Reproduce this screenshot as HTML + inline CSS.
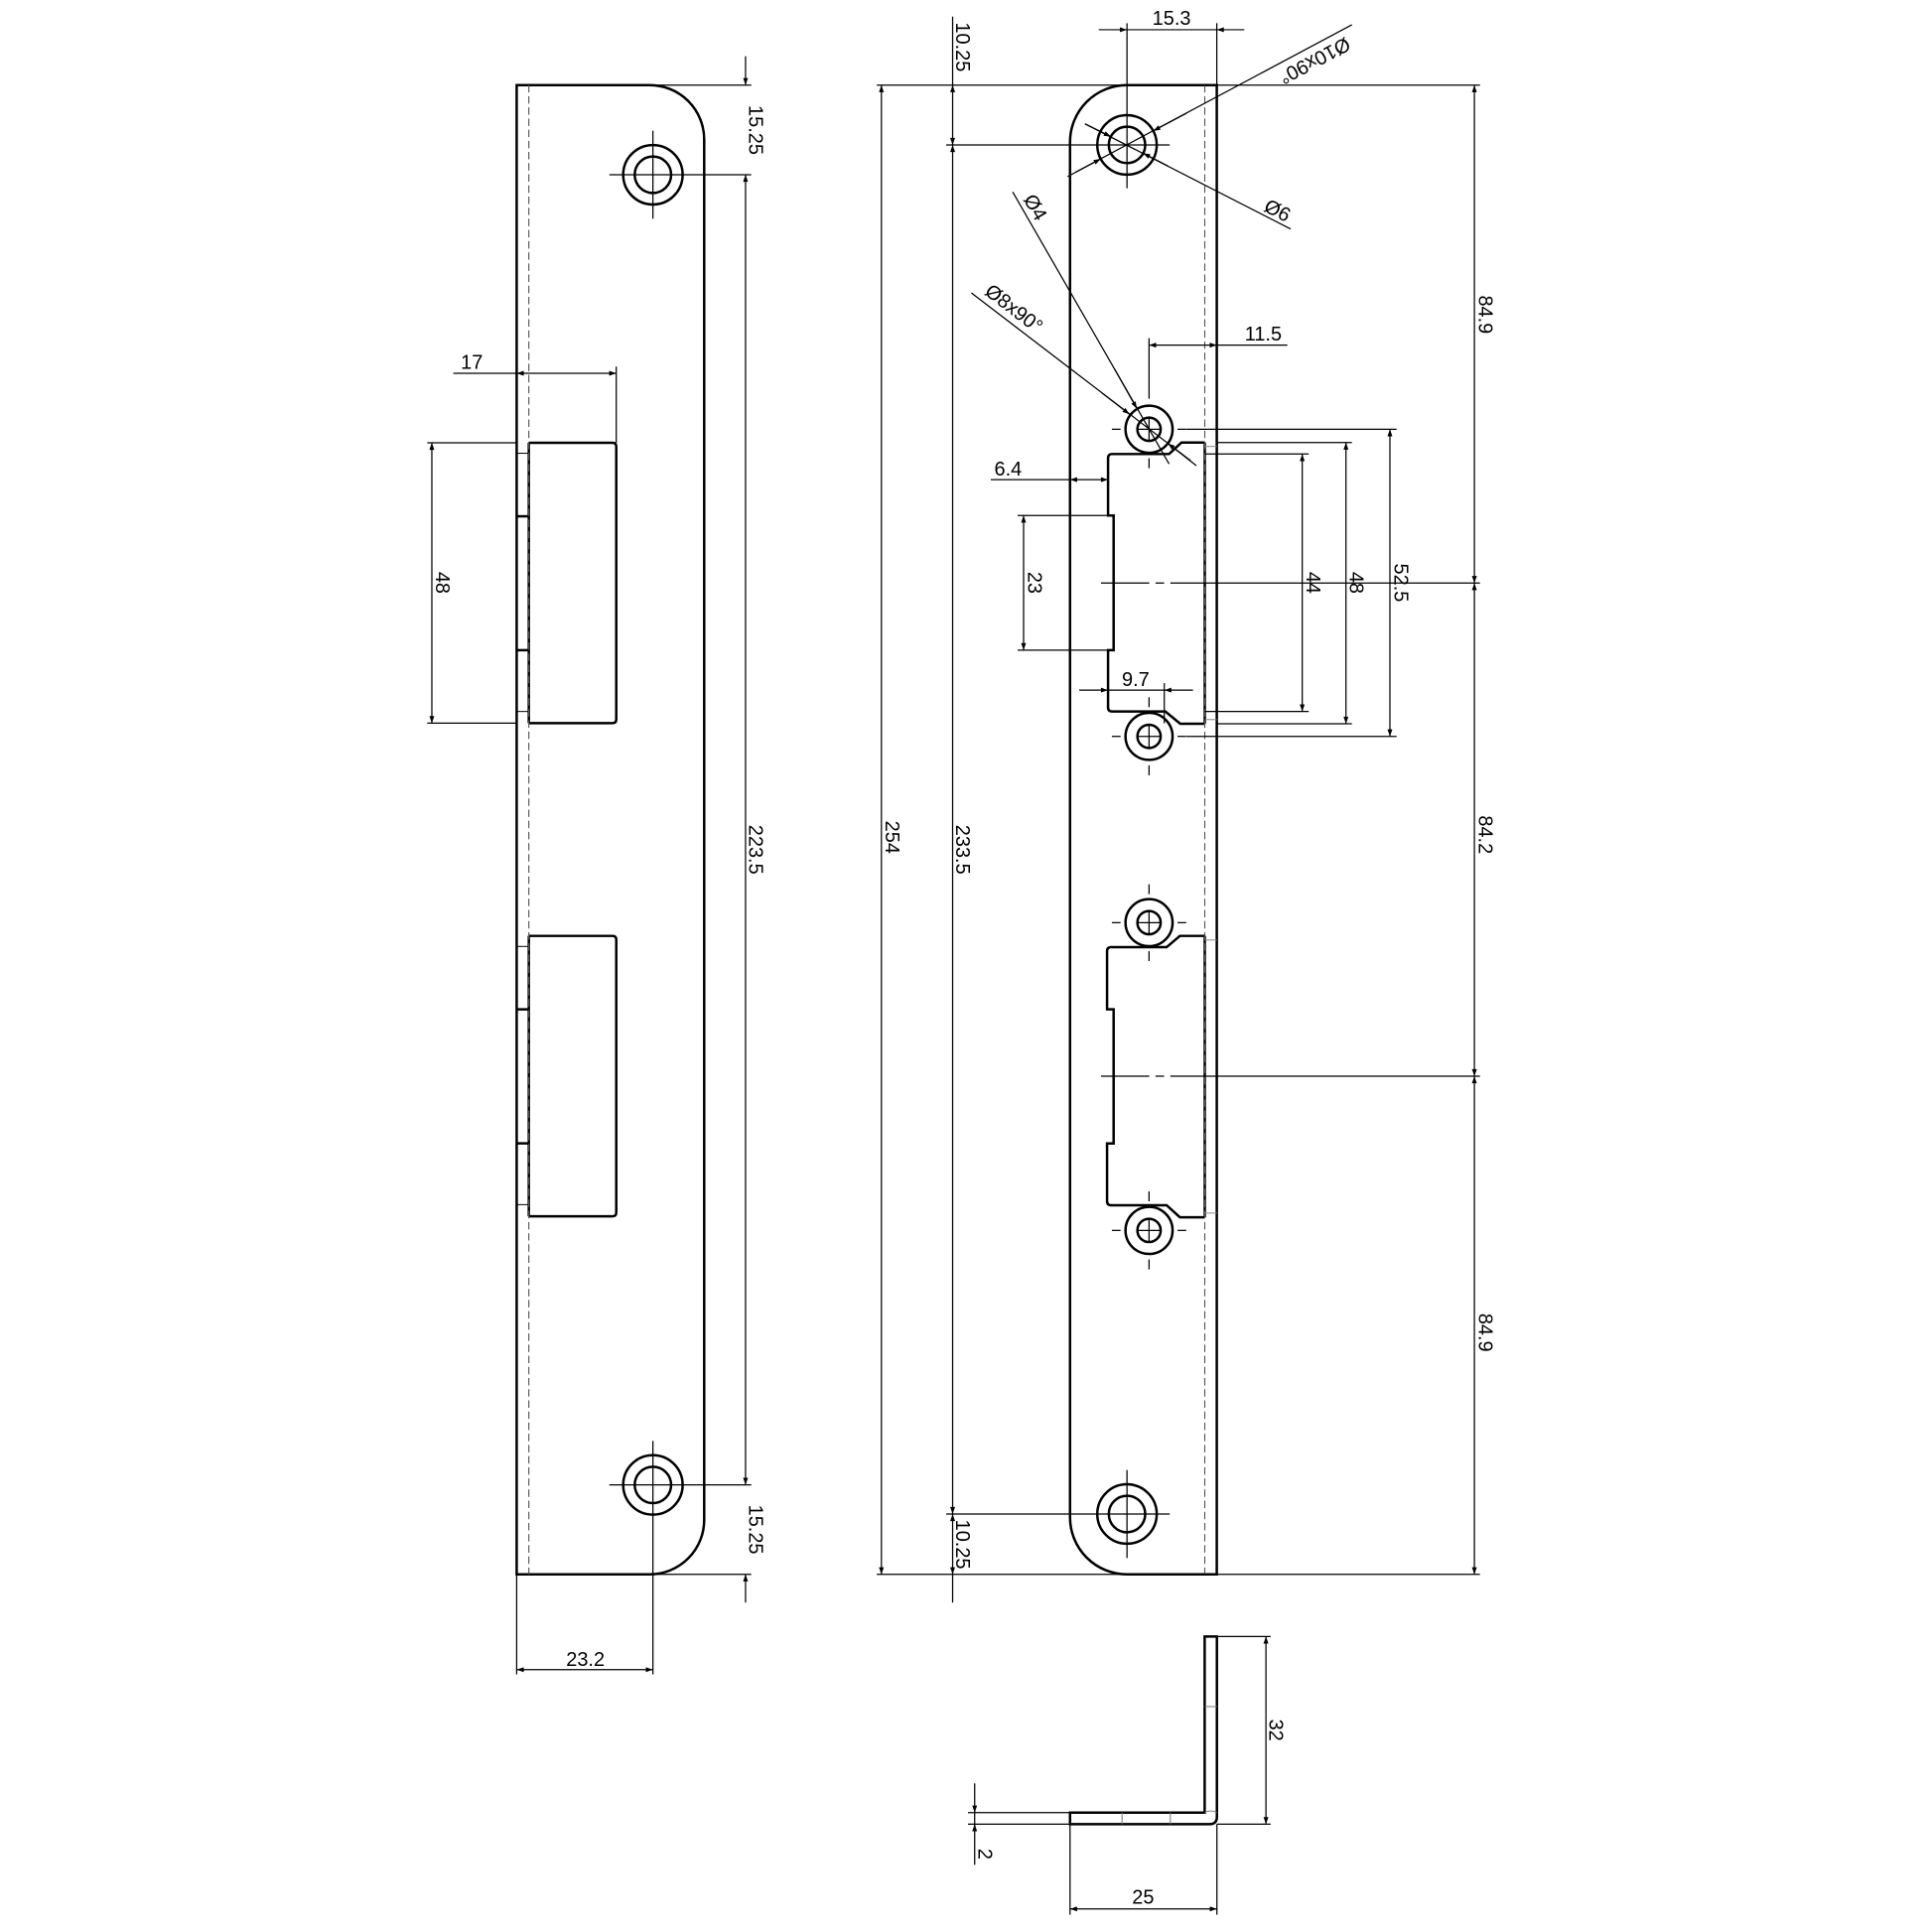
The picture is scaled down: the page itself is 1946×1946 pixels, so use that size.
<!DOCTYPE html>
<html><head><meta charset="utf-8"><style>
html,body{margin:0;padding:0;background:#fff;}
svg{display:block;}
text{font-family:"Liberation Sans",sans-serif;font-size:16px;fill:#000;}
</style></head><body>
<svg width="1946" height="1946" viewBox="0 0 1560 1560" xmlns="http://www.w3.org/2000/svg">
<defs>
<marker id="a" viewBox="0 0 10 7" refX="10" refY="3.5" markerWidth="11" markerHeight="4" markerUnits="userSpaceOnUse" orient="auto-start-reverse"><path d="M0,0 L10,3.5 L0,7 z" fill="#000"/></marker>
</defs>
<rect width="1560" height="1560" fill="#fff"/>

<!-- ============ LEFT VIEW ============ -->
<g fill="none" stroke="#000" stroke-width="2">
<path d="M417.2,68.7 H524.6 A44,44 0 0 1 568.6,112.7 V1227.2 A44,44 0 0 1 524.6,1271.2 H417.2 Z"/>
<path d="M427,357.5 H494.6 Q497.6,357.5 497.6,360.5 V580.9 Q497.6,583.9 494.6,583.9 H427"/>
<path d="M427,755.7 H494.6 Q497.6,755.7 497.6,758.7 V979.1 Q497.6,982.1 494.6,982.1 H427"/>
<line x1="427" y1="357.5" x2="427" y2="583.9"/>
<line x1="427" y1="755.7" x2="427" y2="982.1"/>
<line x1="417.2" y1="416.9" x2="427" y2="416.9"/><line x1="417.2" y1="525" x2="427" y2="525"/>
<line x1="417.2" y1="815" x2="427" y2="815"/><line x1="417.2" y1="923.2" x2="427" y2="923.2"/>
<line x1="417.2" y1="366" x2="427" y2="366" stroke-width="0.8"/><line x1="417.2" y1="574.5" x2="427" y2="574.5" stroke-width="0.8"/>
<line x1="417.2" y1="764.2" x2="427" y2="764.2" stroke-width="0.8"/><line x1="417.2" y1="972.7" x2="427" y2="972.7" stroke-width="0.8"/>
<circle cx="527.2" cy="141.1" r="24"/><circle cx="527.2" cy="141.1" r="14.7"/>
<circle cx="527.2" cy="1199" r="24"/><circle cx="527.2" cy="1199" r="14.7"/>
</g>
<line x1="427" y1="68.7" x2="427" y2="1271.2" stroke="#555" stroke-width="0.9" stroke-dasharray="6,3"/>
<g stroke="#000" stroke-width="1" fill="none">
<line x1="492" y1="141.1" x2="606.6" y2="141.1"/><line x1="527.2" y1="105.6" x2="527.2" y2="176.6"/>
<line x1="492" y1="1199" x2="606.6" y2="1199"/><line x1="527.2" y1="1163.5" x2="527.2" y2="1352"/>
<line x1="524" y1="68.7" x2="606.6" y2="68.7"/><line x1="524" y1="1271.2" x2="606.6" y2="1271.2"/>
<line x1="602" y1="45.4" x2="602" y2="68.7" marker-end="url(#a)"/>
<line x1="602" y1="141.1" x2="602" y2="1199" marker-start="url(#a)" marker-end="url(#a)"/>
<line x1="602" y1="1294" x2="602" y2="1271.2" marker-end="url(#a)"/>
<line x1="366" y1="301.4" x2="417.2" y2="301.4"/>
<line x1="417.2" y1="301.4" x2="497.6" y2="301.4" marker-start="url(#a)" marker-end="url(#a)"/>
<line x1="497.6" y1="296" x2="497.6" y2="357.5"/>
<line x1="345" y1="357.5" x2="417.2" y2="357.5"/><line x1="345" y1="583.9" x2="417.2" y2="583.9"/>
<line x1="348.7" y1="357.5" x2="348.7" y2="583.9" marker-start="url(#a)" marker-end="url(#a)"/>
<line x1="417.2" y1="1271.2" x2="417.2" y2="1352"/>
<line x1="417.2" y1="1348.2" x2="527.2" y2="1348.2" marker-start="url(#a)" marker-end="url(#a)"/>
</g>
<text x="381" y="298" text-anchor="middle">17</text>
<text x="472.7" y="1345" text-anchor="middle">23.2</text>
<text transform="translate(352,470.5) rotate(90)" text-anchor="middle">48</text>
<text transform="translate(605,105) rotate(90)" text-anchor="middle">15.25</text>
<text transform="translate(605,686) rotate(90)" text-anchor="middle">223.5</text>
<text transform="translate(605,1235) rotate(90)" text-anchor="middle">15.25</text>

<!-- ============ MIDDLE VIEW ============ -->
<g fill="none" stroke="#000" stroke-width="2">
<path d="M910,68.7 H982.5 V1271.2 H910 A46,46 0 0 1 864,1225.2 V114.7 A46,46 0 0 1 910,68.7 Z"/>
<circle cx="910" cy="117" r="24"/><circle cx="910" cy="117" r="14.7"/>
<circle cx="910" cy="1222.5" r="24"/><circle cx="910" cy="1222.5" r="14.7"/>
<circle cx="927.8" cy="346.6" r="19"/><circle cx="927.8" cy="346.6" r="9.4"/>
<circle cx="927.8" cy="594.6" r="19"/><circle cx="927.8" cy="594.6" r="9.4"/>
<circle cx="927.8" cy="745" r="19"/><circle cx="927.8" cy="745" r="9.4"/>
<circle cx="927.8" cy="993.5" r="19"/><circle cx="927.8" cy="993.5" r="9.4"/>
<path d="M972.8,357.3 H954 L944,366.6 H898 Q894.7,366.6 894.7,369.9 V416.3 H899.2 V525 H894.7 V571.2 Q894.7,574.5 898,574.5 H941 L953,584.4 H972.8"/>
<path d="M972.8,755.7 H952.7 L942,764.8 H897.2 Q893.9,764.8 893.9,768.1 V815 H899.2 V923.3 H893.9 V969.9 Q893.9,973.2 897.2,973.2 H942 L952.7,982.9 H972.8"/>
<line x1="972.8" y1="357.3" x2="972.8" y2="584.4"/>
<line x1="972.8" y1="755.7" x2="972.8" y2="982.9"/>
</g>
<line x1="972.8" y1="68.7" x2="972.8" y2="1271.2" stroke="#555" stroke-width="0.9" stroke-dasharray="6,3"/>
<g stroke="#888" stroke-width="0.8">
<line x1="972.8" y1="360.5" x2="982.5" y2="360.5"/><line x1="972.8" y1="581" x2="982.5" y2="581"/>
<line x1="972.8" y1="759" x2="982.5" y2="759"/><line x1="972.8" y1="979.5" x2="982.5" y2="979.5"/>
</g>
<g stroke="#000" stroke-width="1" fill="none">
<line x1="764" y1="117" x2="944.5" y2="117"/><line x1="910" y1="18.7" x2="910" y2="152"/>
<line x1="764" y1="1222.5" x2="944.5" y2="1222.5"/><line x1="910" y1="1187" x2="910" y2="1258"/>
<g>
<line x1="918.4" y1="346.6" x2="937.2" y2="346.6"/><line x1="927.8" y1="337.2" x2="927.8" y2="356"/>
<line x1="897.8" y1="346.6" x2="904.8" y2="346.6"/><line x1="950.8" y1="346.6" x2="957.8" y2="346.6"/><line x1="927.8" y1="370" x2="927.8" y2="378"/>
<line x1="918.4" y1="594.6" x2="937.2" y2="594.6"/><line x1="927.8" y1="585.2" x2="927.8" y2="604"/>
<line x1="897.8" y1="594.6" x2="904.8" y2="594.6"/><line x1="950.8" y1="594.6" x2="957.8" y2="594.6"/><line x1="927.8" y1="618" x2="927.8" y2="626"/><line x1="927.8" y1="563" x2="927.8" y2="571"/>
<line x1="918.4" y1="745" x2="937.2" y2="745"/><line x1="927.8" y1="735.6" x2="927.8" y2="754.4"/>
<line x1="897.8" y1="745" x2="904.8" y2="745"/><line x1="950.8" y1="745" x2="957.8" y2="745"/><line x1="927.8" y1="714" x2="927.8" y2="722"/><line x1="927.8" y1="768" x2="927.8" y2="776"/>
<line x1="918.4" y1="993.5" x2="937.2" y2="993.5"/><line x1="927.8" y1="984.1" x2="927.8" y2="1002.9"/>
<line x1="897.8" y1="993.5" x2="904.8" y2="993.5"/><line x1="950.8" y1="993.5" x2="957.8" y2="993.5"/><line x1="927.8" y1="962" x2="927.8" y2="970"/><line x1="927.8" y1="1017" x2="927.8" y2="1025"/>
</g>
<path d="M889,470.8 H928 M933,470.8 H940 M945,470.8 H1195" />
<path d="M889,869 H928 M933,869 H940 M945,869 H1195" />
<line x1="1091.6" y1="20" x2="868.5" y2="139"/>
<line x1="958" y1="91.4" x2="931.2" y2="105.7" marker-end="url(#a)"/>
<line x1="862" y1="142.6" x2="888.8" y2="128.3" marker-end="url(#a)"/>
<line x1="876.5" y1="100.2" x2="1042.2" y2="184.9"/>
<line x1="876" y1="100" x2="897" y2="110.3" marker-end="url(#a)"/>
<line x1="943" y1="134" x2="923" y2="123.7" marker-end="url(#a)"/>
<line x1="817.7" y1="155" x2="944" y2="374.6"/>
<line x1="900" y1="298" x2="918" y2="330" marker-end="url(#a)"/>
<line x1="784.3" y1="236.5" x2="961.4" y2="372"/>
<line x1="890" y1="317.5" x2="912" y2="334.5" marker-end="url(#a)"/>
<line x1="966" y1="376" x2="943" y2="358" marker-end="url(#a)"/>
<line x1="887.2" y1="24" x2="910" y2="24" marker-end="url(#a)"/>
<line x1="910" y1="24" x2="982.5" y2="24"/>
<line x1="1004.7" y1="24" x2="982.5" y2="24" marker-end="url(#a)"/>
<line x1="982.5" y1="18.7" x2="982.5" y2="68.7"/>
<line x1="927.8" y1="278.7" x2="982.5" y2="278.7" marker-start="url(#a)" marker-end="url(#a)"/>
<line x1="982.5" y1="278.7" x2="1039.5" y2="278.7"/>
<line x1="927.8" y1="273" x2="927.8" y2="322"/>
<line x1="800" y1="387.3" x2="864" y2="387.3"/>
<line x1="864" y1="387.3" x2="894.7" y2="387.3" marker-start="url(#a)" marker-end="url(#a)"/>
<line x1="821.7" y1="416.3" x2="899" y2="416.3"/><line x1="821.7" y1="525" x2="899" y2="525"/>
<line x1="826.5" y1="416.3" x2="826.5" y2="525" marker-start="url(#a)" marker-end="url(#a)"/>
<line x1="871.4" y1="557.2" x2="894.7" y2="557.2" marker-end="url(#a)"/>
<line x1="894.7" y1="557.2" x2="940.1" y2="557.2"/>
<line x1="963.3" y1="557.2" x2="940.1" y2="557.2" marker-end="url(#a)"/>
<line x1="940.1" y1="551.6" x2="940.1" y2="584"/>
<line x1="972.8" y1="366.6" x2="1056.7" y2="366.6"/><line x1="972.8" y1="574.5" x2="1056.7" y2="574.5"/>
<line x1="1051.5" y1="366.6" x2="1051.5" y2="574.5" marker-start="url(#a)" marker-end="url(#a)"/>
<line x1="982.5" y1="357.3" x2="1091.6" y2="357.3"/><line x1="982.5" y1="584.4" x2="1091.6" y2="584.4"/>
<line x1="1086.8" y1="357.3" x2="1086.8" y2="584.4" marker-start="url(#a)" marker-end="url(#a)"/>
<line x1="958" y1="346.6" x2="1127.7" y2="346.6"/><line x1="958" y1="594.6" x2="1127.7" y2="594.6"/>
<line x1="1122.3" y1="346.6" x2="1122.3" y2="594.6" marker-start="url(#a)" marker-end="url(#a)"/>
<line x1="708" y1="68.7" x2="1195" y2="68.7"/><line x1="708" y1="1271.2" x2="1195" y2="1271.2"/>
<line x1="1190.5" y1="68.7" x2="1190.5" y2="470.8" marker-start="url(#a)" marker-end="url(#a)"/>
<line x1="1190.5" y1="470.8" x2="1190.5" y2="869" marker-start="url(#a)" marker-end="url(#a)"/>
<line x1="1190.5" y1="869" x2="1190.5" y2="1271.2" marker-start="url(#a)" marker-end="url(#a)"/>
<line x1="711.7" y1="68.7" x2="711.7" y2="1271.2" marker-start="url(#a)" marker-end="url(#a)"/>
<line x1="769.2" y1="13.4" x2="769.2" y2="68.7"/>
<line x1="769.2" y1="68.7" x2="769.2" y2="117" marker-start="url(#a)" marker-end="url(#a)"/>
<line x1="769.2" y1="117" x2="769.2" y2="1222.5" marker-start="url(#a)" marker-end="url(#a)"/>
<line x1="769.2" y1="1222.5" x2="769.2" y2="1271.2" marker-start="url(#a)" marker-end="url(#a)"/>
<line x1="769.2" y1="1271.2" x2="769.2" y2="1294"/>
</g>
<text x="946" y="20" text-anchor="middle">15.3</text>
<text x="1020" y="275" text-anchor="middle">11.5</text>
<text x="814" y="384" text-anchor="middle">6.4</text>
<text x="917" y="554" text-anchor="middle">9.7</text>
<text transform="translate(1061,48) rotate(152)" text-anchor="middle" dominant-baseline="middle">Ø10x90°</text>
<text transform="translate(1031,171) rotate(27)" text-anchor="middle" dominant-baseline="middle">Ø6</text>
<text transform="translate(835,168) rotate(60)" text-anchor="middle" dominant-baseline="middle">Ø4</text>
<text transform="translate(818,250) rotate(37.5)" text-anchor="middle" dominant-baseline="middle">Ø8x90°</text>
<text transform="translate(830,470.5) rotate(90)" text-anchor="middle">23</text>
<text transform="translate(1055,470.5) rotate(90)" text-anchor="middle">44</text>
<text transform="translate(1090,470.5) rotate(90)" text-anchor="middle">48</text>
<text transform="translate(1126,470.5) rotate(90)" text-anchor="middle">52.5</text>
<text transform="translate(1194,254) rotate(90)" text-anchor="middle">84.9</text>
<text transform="translate(1194,674) rotate(90)" text-anchor="middle">84.2</text>
<text transform="translate(1194,1076) rotate(90)" text-anchor="middle">84.9</text>
<text transform="translate(715,676) rotate(90)" text-anchor="middle">254</text>
<text transform="translate(772,686) rotate(90)" text-anchor="middle">233.5</text>
<text transform="translate(772,38) rotate(90)" text-anchor="middle">10.25</text>
<text transform="translate(772,1247) rotate(90)" text-anchor="middle">10.25</text>

<!-- ============ PROFILE ============ -->
<g fill="none" stroke="#000" stroke-width="2">
<path d="M972.7,1321.4 H982.6 V1467 Q982.6,1472.9 976.7,1472.9 H864 V1463.6 H972.7 Z"/>
</g>
<g stroke="#777" stroke-width="0.8" fill="none">
<line x1="972.7" y1="1378" x2="982.6" y2="1378"/>
<path d="M972.7,1463.6 A9.9,9.9 0 0 1 982.6,1463.6"/>
<line x1="906" y1="1463.6" x2="906" y2="1472.9"/><line x1="945" y1="1463.6" x2="945" y2="1472.9"/>
</g>
<g stroke="#000" stroke-width="1" fill="none">
<line x1="982.6" y1="1321.4" x2="1026" y2="1321.4"/><line x1="982.6" y1="1472.9" x2="1026" y2="1472.9"/>
<line x1="1022.2" y1="1321.4" x2="1022.2" y2="1472.9" marker-start="url(#a)" marker-end="url(#a)"/>
<line x1="781.6" y1="1463.6" x2="864" y2="1463.6"/><line x1="781.6" y1="1472.9" x2="864" y2="1472.9"/>
<line x1="787" y1="1440" x2="787" y2="1463.6" marker-end="url(#a)"/>
<line x1="787" y1="1463.6" x2="787" y2="1472.9"/>
<line x1="787" y1="1505.8" x2="787" y2="1472.9" marker-end="url(#a)"/>
<line x1="864" y1="1472.9" x2="864" y2="1546"/><line x1="982.6" y1="1472.9" x2="982.6" y2="1546"/>
<line x1="864" y1="1541.4" x2="982.6" y2="1541.4" marker-start="url(#a)" marker-end="url(#a)"/>
</g>
<text x="923" y="1537" text-anchor="middle">25</text>
<text transform="translate(1025,1397) rotate(90)" text-anchor="middle">32</text>
<text transform="translate(790,1497) rotate(90)" text-anchor="middle">2</text>
</svg>
</body></html>
